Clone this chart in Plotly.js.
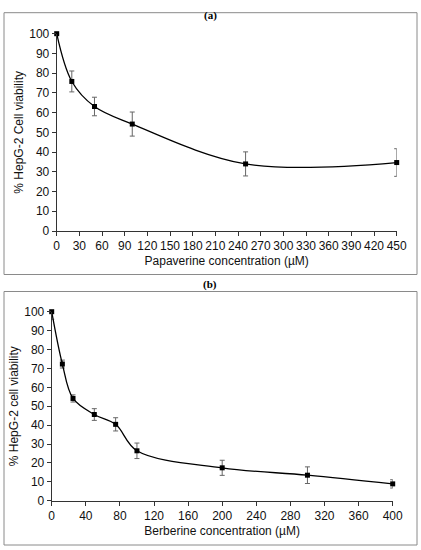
<!DOCTYPE html>
<html>
<head>
<meta charset="utf-8">
<script src="https://cdn.plot.ly/plotly-3.0.1.min.js"></script>
<style>
  html, body { margin: 0; padding: 0; background: #fff; }
  #chart { width: 421px; height: 550px; }
</style>
</head>
<body>
<div id="chart"></div>
<script>
// (a) papaverine
var papConc = [0, 20, 50, 100, 250, 450];
var papViab = [100, 75.8, 63.1, 54.2, 34.0, 34.7];
var papErr = [0, 5.3, 4.7, 6.1, 6.1, 7.0];

// (b) berberine
var berConc = [0, 12.5, 25, 50, 75, 100, 200, 300, 400];
var berViab = [100, 72.3, 54.1, 45.6, 40.4, 26.4, 17.4, 13.5, 8.9];
var berErr = [4.0, 2.1, 1.9, 3.1, 3.5, 4.1, 4.0, 4.4, 2.2];

var W = 421, H = 550;
function px(x) { return x / W; }
function py(y) { return 1 - y / H; }

var fontSans = 'Liberation Sans, Arial, sans-serif';
var axisColor = '#333333';

function series(x, y, err, xa, ya) {
  return {
    x: x, y: y,
    xaxis: xa, yaxis: ya,
    type: 'scatter',
    mode: 'lines+markers',
    cliponaxis: false,
    line: { color: '#000', width: 1.3, shape: 'spline', smoothing: 1 },
    marker: { symbol: 'square', size: 5, color: '#000' },
    error_y: { type: 'data', array: err, visible: true, color: '#666', thickness: 1, width: 2.5 },
    hoverinfo: 'x+y'
  };
}

function xAxis(domain, anchor, range, dtick, title) {
  return {
    domain: domain, anchor: anchor, range: range, dtick: dtick,
    showgrid: false, zeroline: false, showline: true,
    linecolor: axisColor, linewidth: 1,
    ticks: 'outside', ticklen: 4, tickcolor: axisColor,
    tickfont: { family: fontSans, size: 12, color: '#111' },
    title: { text: title, font: { family: fontSans, size: 12, color: '#111' }, standoff: 4 },
    fixedrange: true
  };
}

function yAxis(domain, anchor, title) {
  return {
    domain: domain, anchor: anchor, range: [0, 100], dtick: 10,
    showgrid: false, zeroline: false, showline: true,
    linecolor: axisColor, linewidth: 1,
    ticks: 'outside', ticklen: 4, tickcolor: axisColor,
    tickfont: { family: fontSans, size: 12, color: '#111' },
    title: { text: title, font: { family: fontSans, size: 12, color: '#111' }, standoff: 3 },
    fixedrange: true
  };
}

var data = [
  series(papConc, papViab, papErr, 'x', 'y'),
  series(berConc, berViab, berErr, 'x2', 'y2')
];

var layout = {
  width: W, height: H,
  margin: { l: 0, r: 0, t: 0, b: 0 },
  paper_bgcolor: '#fff', plot_bgcolor: '#fff',
  showlegend: false,
  xaxis: xAxis([px(56.7), px(396.7)], 'y', [0, 450], 30, 'Papaverine concentration (\u00b5M)'),
  yaxis: yAxis([py(231), py(33.7)], 'x', '% HepG-2 Cell viability'),
  xaxis2: xAxis([px(51.7), px(392.7)], 'y2', [0, 400], 40, 'Berberine concentration (\u00b5M)'),
  yaxis2: yAxis([py(500.7), py(311.7)], 'x2', '% HepG-2 cell viability'),
  shapes: [
    { type: 'rect', xref: 'paper', yref: 'paper', x0: px(4), x1: px(417), y0: py(274.5), y1: py(12.7),
      line: { color: '#8a8a8a', width: 1 } },
    { type: 'rect', xref: 'paper', yref: 'paper', x0: px(4), x1: px(417), y0: py(545), y1: py(291.5),
      line: { color: '#8a8a8a', width: 1 } }
  ],
  annotations: [
    { text: '<b>(a)</b>', xref: 'paper', yref: 'paper', x: px(210), y: py(7), showarrow: false,
      font: { family: 'Liberation Serif, Times New Roman, serif', size: 11, color: '#000' } },
    { text: '<b>(b)</b>', xref: 'paper', yref: 'paper', x: px(210), y: py(284), showarrow: false,
      font: { family: 'Liberation Serif, Times New Roman, serif', size: 11, color: '#000' } }
  ]
};

Plotly.newPlot('chart', data, layout, { displayModeBar: false, staticPlot: true });
</script>
</body>
</html>
